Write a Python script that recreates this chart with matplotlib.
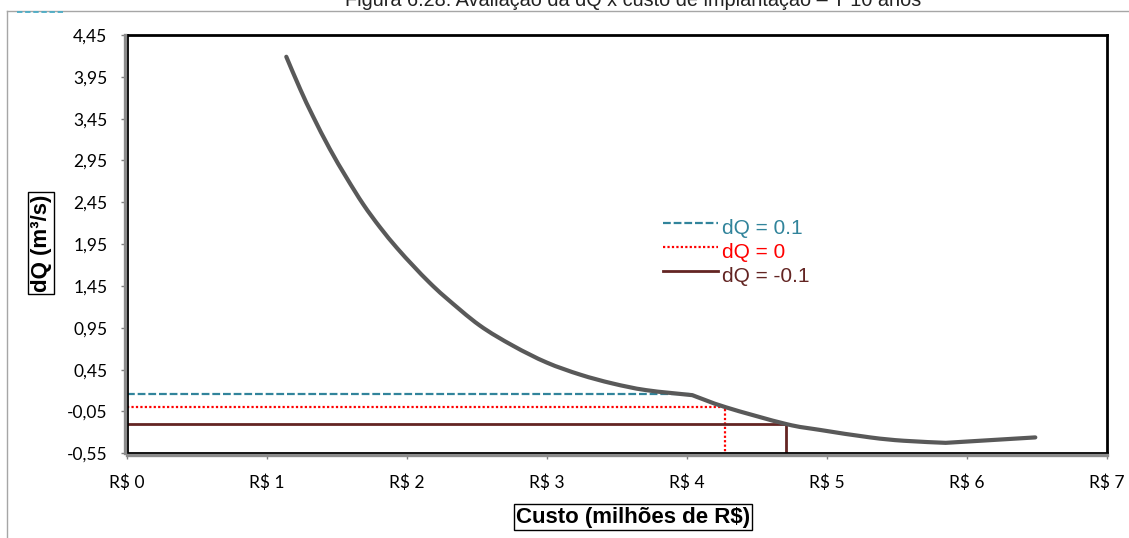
import matplotlib
matplotlib.use("Agg")
import matplotlib.pyplot as plt
from matplotlib.lines import Line2D
from matplotlib.path import Path
from matplotlib.patches import PathPatch
from matplotlib.transforms import offset_copy
import numpy as np

# ---- data ----
curve_x = [1.14, 1.24, 1.33, 1.45, 1.57, 1.69, 1.81, 1.93, 2.05, 2.16, 2.28, 2.52,
           2.76, 3.00, 3.24, 3.47, 3.71, 4.04, 4.28, 4.71, 4.95, 5.31, 5.55, 5.85, 6.49]
curve_y = [4.19, 3.80, 3.48, 3.09, 2.745, 2.425, 2.15, 1.905, 1.685, 1.495, 1.31, 0.98,
           0.735, 0.535, 0.39, 0.285, 0.205, 0.145, 0.0, -0.2, -0.27, -0.36, -0.40, -0.425, -0.36]
curve_breaks = [17, 23]   # indices where the drawn curve has a corner

ref_labels = ["dQ = 0.1", "dQ = 0", "dQ = -0.1"]
ref_level = [0.16, 0.0, -0.205]       # height of each reference line
ref_x_end = [4.02, 4.276, 4.707]      # where each reference line meets the curve
ref_has_drop = [False, True, True]

x_ticks = [0, 1, 2, 3, 4, 5, 6, 7]
x_tick_labels = ["R$ 0", "R$ 1", "R$ 2", "R$ 3", "R$ 4", "R$ 5", "R$ 6", "R$ 7"]
y_ticks = [-0.55, -0.05, 0.45, 0.95, 1.45, 1.95, 2.45, 2.95, 3.45, 3.95, 4.45]
y_tick_labels = ["-0,55", "-0,05", "0,45", "0,95", "1,45", "1,95", "2,45", "2,95",
                 "3,45", "3,95", "4,45"]

title = "Figura 6.28: Avaliação da dQ x custo de implantação – T 10 anos"
xlabel = "Custo (milhões de R$)"
ylabel = "dQ (m³/s)"

# ---- styles ----
ref_colors = ["#31849B", "#FF0000", "#632523"]
ref_styles = [(0, (3.5, 1.3)), (0, (1, 1)), "-"]
ref_widths = [1.6, 1.6, 2.0]

W, H = 1129, 538
fig = plt.figure(figsize=(W / 100, H / 100), dpi=100)
fig.patch.set_facecolor("white")
ax = fig.add_axes([126.7 / W, 1 - 453.3 / H, (1106.7 - 126.7) / W, (453.3 - 35) / H])

ymin = -0.55
for lvl, xe, drop, c, ls, lw, lab in zip(ref_level, ref_x_end, ref_has_drop,
                                          ref_colors, ref_styles, ref_widths, ref_labels):
    xs = [0, xe] + ([xe] if drop else [])
    ys = [lvl, lvl] + ([ymin] if drop else [])
    ax.plot(xs, ys, color=c, linestyle=ls, linewidth=lw, label=lab, zorder=2)


def smooth_path(xs, ys, breaks):
    """Smoothed (Catmull-Rom as cubic Bezier) line through the points, with corners at breaks."""
    pts = np.column_stack([xs, ys]).astype(float)
    bounds = [0] + list(breaks) + [len(pts) - 1]
    verts, codes = [pts[0]], [Path.MOVETO]
    for a, b in zip(bounds[:-1], bounds[1:]):
        seg = pts[a:b + 1]
        n = len(seg)
        for i in range(n - 1):
            p0 = seg[i - 1] if i > 0 else seg[i]
            p1, p2 = seg[i], seg[i + 1]
            p3 = seg[i + 2] if i + 2 < n else seg[i + 1]
            c1 = p1 + (p2 - p0) / 6.0
            c2 = p2 - (p3 - p1) / 6.0
            verts += [c1, c2, p2]
            codes += [Path.CURVE4] * 3
    return Path(np.array(verts), codes)


ax.add_patch(PathPatch(smooth_path(curve_x, curve_y, curve_breaks), fc="none",
                       ec="#595959", lw=3.0, capstyle="round", joinstyle="round", zorder=3))

ax.set_xlim(0, 7)
ax.set_ylim(-0.55, 4.45)
ax.set_xticks(x_ticks)
ax.set_xticklabels(x_tick_labels)
ax.set_yticks(y_ticks)
ax.set_yticklabels(y_tick_labels)
ax.tick_params(axis="both", direction="out", length=4, width=1, color="#808080",
               labelsize=12.5, labelcolor="black")
ax.tick_params(axis="y", pad=10)
ax.tick_params(axis="x", pad=11)
for lbl in ax.get_xticklabels() + ax.get_yticklabels():
    lbl.set_fontfamily("Lato")

for s in ax.spines.values():
    s.set_color("black")
    s.set_linewidth(2.0)

# grey axis lines just outside left and bottom
ax.plot([0, 0], [0, 1], transform=offset_copy(ax.transAxes, fig, x=-2, y=0, units="dots"),
        color="#8c8c8c", lw=2.4, clip_on=False, zorder=5)
ax.plot([0, 1], [0, 0], transform=offset_copy(ax.transAxes, fig, x=0, y=-2, units="dots"),
        color="#8c8c8c", lw=2.4, clip_on=False, zorder=5)

# legend (drawn by hand so that the text sits a little below each key, as in the reference)
leg_rows = [223, 247, 271]
for row, lab, c, ls, lw in zip(leg_rows, ref_labels, ref_colors, ref_styles, ref_widths):
    fig.add_artist(Line2D([663 / W, 718 / W], [1 - row / H, 1 - row / H],
                          transform=fig.transFigure, color=c, linestyle=ls, lw=lw))
    fig.text(722 / W, 1 - (row + 5) / H, lab, ha="left", va="center", fontsize=15,
             family="Liberation Sans", color=c)

# axis titles in boxes
fig.text(41 / W, 1 - 243 / H, ylabel, rotation=90, ha="center", va="center",
         fontsize=16, fontweight="bold", family="Liberation Sans",
         bbox=dict(boxstyle="square,pad=0.12", fc="white", ec="black", lw=1.0))
fig.text(633 / W, 1 - 517 / H, xlabel, ha="center", va="center",
         fontsize=16, fontweight="bold", family="Liberation Sans",
         bbox=dict(boxstyle="square,pad=0.1", fc="white", ec="black", lw=1.0))

# title (partially cut at top, as in reference)
fig.text(633 / W, 1 - 5.5 / H, title, ha="center", va="baseline", fontsize=14.3,
         family="Liberation Sans", color="#222222")

# outer chart border (light grey)
fig.add_artist(Line2D([7 / W, 1.0], [1 - 11 / H, 1 - 11 / H], transform=fig.transFigure,
                      color="#a6a6a6", lw=1.0))
fig.add_artist(Line2D([7 / W, 7 / W], [1 - 11 / H, 0], transform=fig.transFigure,
                      color="#a6a6a6", lw=1.0))
fig.add_artist(Line2D([17 / W, 63 / W], [1 - 12 / H, 1 - 12 / H], transform=fig.transFigure,
                      color="#4BACC6", lw=1.3, linestyle=(0, (3, 1.5))))

fig.savefig("out.png", dpi=100, facecolor="white")
